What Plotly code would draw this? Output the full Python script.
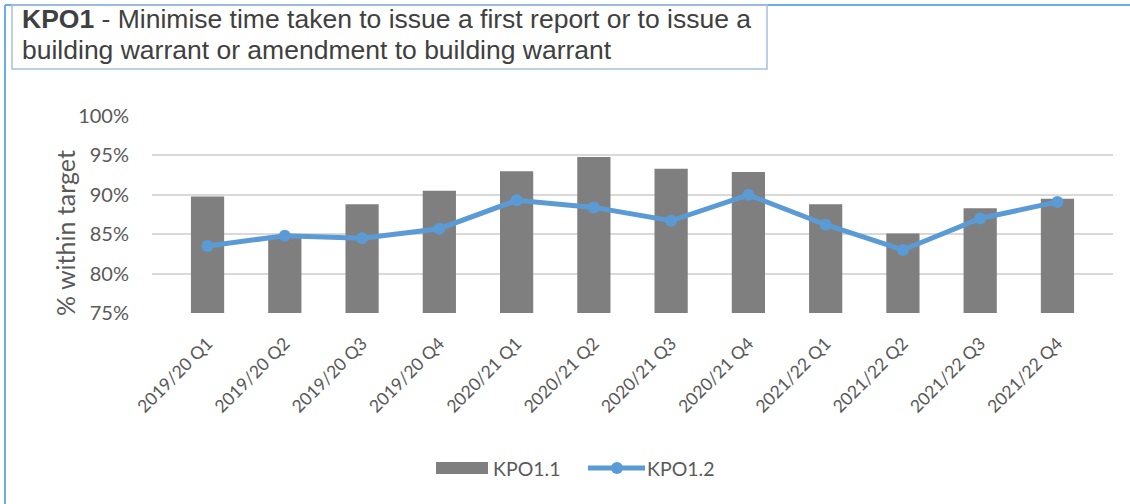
import plotly.graph_objects as go

# Quarterly performance for KPO1
quarters = [
    "2019/20 Q1", "2019/20 Q2", "2019/20 Q3", "2019/20 Q4",
    "2020/21 Q1", "2020/21 Q2", "2020/21 Q3", "2020/21 Q4",
    "2021/22 Q1", "2021/22 Q2", "2021/22 Q3", "2021/22 Q4",
]
kpo1_1 = [89.8, 84.8, 88.8, 90.5, 93.0, 94.8, 93.3, 92.9, 88.8, 85.1, 88.3, 89.5]
kpo1_2 = [83.5, 84.8, 84.5, 85.7, 89.3, 88.4, 86.7, 90.0, 86.2, 83.0, 87.0, 89.1]
series_names = ["KPO1.1", "KPO1.2"]
y_ticks = [75, 80, 85, 90, 95, 100]
y_tick_labels = [f"{v}%" for v in y_ticks]

W, H = 1130, 504
ML, MR, MT, MB = 152, 17, 116, 191
PW, PH = W - ML - MR, H - MT - MB


def px(x):
    return (x - ML) / PW


def py(y):
    return (H - MB - y) / PH


GREY = "#7f7f7f"
BLUE = "#5b9bd5"
TEXT = "#595959"
FONT = "Lato, Liberation Sans, sans-serif"
TITLE_FONT = "Liberation Sans, Arial, sans-serif"

fig = go.Figure()
fig.add_trace(go.Bar(
    x=quarters, y=kpo1_1, name=series_names[0],
    marker=dict(color=GREY, line=dict(width=0)),
    width=0.43, showlegend=False,
))
fig.add_trace(go.Scatter(
    x=quarters, y=kpo1_2, name=series_names[1], mode="lines+markers",
    line=dict(color=BLUE, width=5),
    marker=dict(color=BLUE, size=12),
    showlegend=False,
))

shapes = [
    # outer frame edges (left and top)
    dict(type="line", xref="paper", yref="paper",
         x0=px(5), x1=px(5), y0=py(5), y1=py(504), line=dict(color="#6aaee6", width=2)),
    dict(type="line", xref="paper", yref="paper",
         x0=px(5), x1=px(1130), y0=py(5), y1=py(5), line=dict(color="#6aaee6", width=2)),
    # title box
    dict(type="rect", xref="paper", yref="paper",
         x0=px(12), x1=px(767), y0=py(5), y1=py(69),
         line=dict(color="#a9c0da", width=1.5), fillcolor="rgba(0,0,0,0)"),
    # legend keys
    dict(type="rect", xref="paper", yref="paper",
         x0=px(436), x1=px(488), y0=py(474), y1=py(462),
         line=dict(width=0), fillcolor=GREY),
    dict(type="line", xref="paper", yref="paper",
         x0=px(588), x1=px(645), y0=py(468), y1=py(468),
         line=dict(color=BLUE, width=5)),
    dict(type="circle", xref="paper", yref="paper",
         x0=px(611), x1=px(623), y0=py(474), y1=py(462),
         line=dict(width=0), fillcolor=BLUE),
]

annotations = [
    dict(xref="paper", yref="paper", x=px(20), y=py(19), xanchor="left", yanchor="middle",
         text="<b>KPO1</b> - Minimise time taken to issue a first report or to issue a",
         showarrow=False, font=dict(family=TITLE_FONT, size=26.5, color="#404040")),
    dict(xref="paper", yref="paper", x=px(20), y=py(50), xanchor="left", yanchor="middle",
         text="building warrant or amendment to building warrant",
         showarrow=False, font=dict(family=TITLE_FONT, size=26.5, color="#404040")),
    # y-axis title
    dict(xref="paper", yref="paper", x=px(65), y=py(233), xanchor="center", yanchor="middle",
         text="% within target", textangle=-90, showarrow=False,
         font=dict(size=25, color=TEXT)),
    dict(xref="paper", yref="paper", x=px(491), y=py(468), xanchor="left", yanchor="middle",
         text=series_names[0], showarrow=False, font=dict(size=19.5, color=TEXT)),
    dict(xref="paper", yref="paper", x=px(645), y=py(468), xanchor="left", yanchor="middle",
         text=series_names[1], showarrow=False, font=dict(size=19.5, color=TEXT)),
]

fig.update_layout(
    width=W, height=H,
    margin=dict(l=ML, r=MR, t=MT, b=MB),
    paper_bgcolor="white", plot_bgcolor="white",
    font=dict(family=FONT, color=TEXT),
    shapes=shapes,
    annotations=annotations,
    showlegend=False,
    xaxis=dict(
        tickangle=-45, tickfont=dict(size=17.5, color=TEXT),
        showgrid=False, showline=False, ticks="", ticklabelstandoff=16,
    ),
    yaxis=dict(
        range=[75, 100], tickvals=y_ticks, ticktext=y_tick_labels,
        tickfont=dict(size=20, color=TEXT),
        showgrid=True, gridcolor="#d9d9d9", gridwidth=1.5,
        zeroline=False, showline=False, ticks="", ticklabelstandoff=22,
    ),
)

fig.write_html("out.html")
